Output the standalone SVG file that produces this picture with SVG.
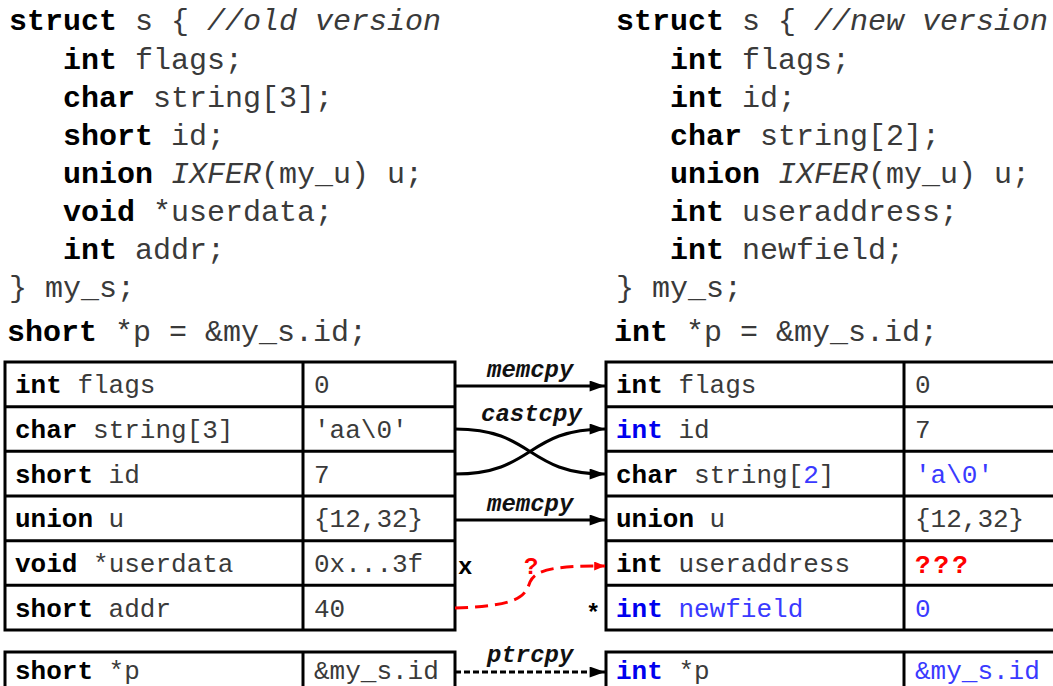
<svg xmlns="http://www.w3.org/2000/svg" width="1053" height="686" viewBox="0 0 1053 686">
  <style>
    .code { font-family: "Liberation Mono", "Courier New", monospace; font-size: 30px; fill: #3a3a3a; }
    .cell { font-family: "Liberation Mono", "Courier New", monospace; font-size: 26px; fill: #3a3a3a; }
    .kw { font-weight: bold; fill: #000; }
    .it { font-style: italic; }
    .blue { fill: #3a3aff; }
    .bkw { font-weight: bold; fill: #0000ee; }
    .red { fill: #ff0000; font-weight: bold; letter-spacing: 3px; }
    .lbl { font-family: "Liberation Mono", "Courier New", monospace; font-size: 24px; font-weight: bold; font-style: italic; fill: #111; }
    .mark { font-family: "Liberation Mono", "Courier New", monospace; font-size: 24px; font-weight: bold; fill: #000; }
    .grid { fill: #fff; stroke: #000; stroke-width: 3; }
    .line { stroke: #000; stroke-width: 3; }
    .wire { fill: none; stroke: #000; stroke-width: 3; }
  </style>
  <defs>
    <marker id="head" viewBox="0 0 14 10" refX="14" refY="5" markerWidth="16" markerHeight="11" markerUnits="userSpaceOnUse" orient="auto">
      <path d="M0,0 L14,5 L0,10 Z" fill="#000"/>
    </marker>
    <marker id="headRed" viewBox="0 0 12 10" refX="12" refY="5" markerWidth="11" markerHeight="9" markerUnits="userSpaceOnUse" orient="auto">
      <path d="M0,0 L12,5 L0,10 Z" fill="#ff0000"/>
    </marker>
  </defs>

  <rect width="1053" height="686" fill="#fff"/>

  <!-- old struct declaration -->
  <g id="code-old">
    <text class="code" x="9" y="30"><tspan class="kw">struct</tspan> s { <tspan class="it">//old version</tspan></text>
    <text class="code" x="63" y="69"><tspan class="kw">int</tspan> flags;</text>
    <text class="code" x="63" y="107"><tspan class="kw">char</tspan> string[3];</text>
    <text class="code" x="63" y="145"><tspan class="kw">short</tspan> id;</text>
    <text class="code" x="63" y="183"><tspan class="kw">union</tspan> <tspan class="it">IXFER</tspan>(my_u) u;</text>
    <text class="code" x="63" y="221"><tspan class="kw">void</tspan> *userdata;</text>
    <text class="code" x="63" y="259"><tspan class="kw">int</tspan> addr;</text>
    <text class="code" x="9" y="297">} my_s;</text>
    <text class="code" x="7" y="341"><tspan class="kw">short</tspan> *p = &amp;my_s.id;</text>
  </g>

  <!-- new struct declaration -->
  <g id="code-new">
    <text class="code" x="616" y="30"><tspan class="kw">struct</tspan> s { <tspan class="it">//new version</tspan></text>
    <text class="code" x="670" y="69"><tspan class="kw">int</tspan> flags;</text>
    <text class="code" x="670" y="107"><tspan class="kw">int</tspan> id;</text>
    <text class="code" x="670" y="145"><tspan class="kw">char</tspan> string[2];</text>
    <text class="code" x="670" y="183"><tspan class="kw">union</tspan> <tspan class="it">IXFER</tspan>(my_u) u;</text>
    <text class="code" x="670" y="221"><tspan class="kw">int</tspan> useraddress;</text>
    <text class="code" x="670" y="259"><tspan class="kw">int</tspan> newfield;</text>
    <text class="code" x="616" y="297">} my_s;</text>
    <text class="code" x="614" y="341"><tspan class="kw">int</tspan> *p = &amp;my_s.id;</text>
  </g>

  <!-- old memory layout -->
  <g id="table-old">
    <rect class="grid" x="5" y="362" width="450" height="268"/>
    <line class="line" x1="303" y1="362" x2="303" y2="630"/>
    <line class="line" x1="5" y1="406.7" x2="455" y2="406.7"/>
    <line class="line" x1="5" y1="451.3" x2="455" y2="451.3"/>
    <line class="line" x1="5" y1="496" x2="455" y2="496"/>
    <line class="line" x1="5" y1="540.7" x2="455" y2="540.7"/>
    <line class="line" x1="5" y1="585.3" x2="455" y2="585.3"/>
    <text class="cell" x="15" y="393"><tspan class="kw">int</tspan> flags</text>
    <text class="cell" x="15" y="438"><tspan class="kw">char</tspan> string[3]</text>
    <text class="cell" x="15" y="483"><tspan class="kw">short</tspan> id</text>
    <text class="cell" x="15" y="527"><tspan class="kw">union</tspan> u</text>
    <text class="cell" x="15" y="572"><tspan class="kw">void</tspan> *userdata</text>
    <text class="cell" x="15" y="617"><tspan class="kw">short</tspan> addr</text>
    <text class="cell" x="314" y="393">0</text>
    <text class="cell" x="314" y="438">'aa\0'</text>
    <text class="cell" x="314" y="483">7</text>
    <text class="cell" x="314" y="527">{12,32}</text>
    <text class="cell" x="314" y="572">0x...3f</text>
    <text class="cell" x="314" y="617">40</text>
  </g>

  <!-- new memory layout -->
  <g id="table-new">
    <rect class="grid" x="606" y="362" width="460" height="268"/>
    <line class="line" x1="904" y1="362" x2="904" y2="630"/>
    <line class="line" x1="606" y1="406.7" x2="1066" y2="406.7"/>
    <line class="line" x1="606" y1="451.3" x2="1066" y2="451.3"/>
    <line class="line" x1="606" y1="496" x2="1066" y2="496"/>
    <line class="line" x1="606" y1="540.7" x2="1066" y2="540.7"/>
    <line class="line" x1="606" y1="585.3" x2="1066" y2="585.3"/>
    <text class="cell" x="616" y="393"><tspan class="kw">int</tspan> flags</text>
    <text class="cell" x="616" y="438"><tspan class="bkw">int</tspan> id</text>
    <text class="cell" x="616" y="483"><tspan class="kw">char</tspan> string[<tspan class="blue">2</tspan>]</text>
    <text class="cell" x="616" y="527"><tspan class="kw">union</tspan> u</text>
    <text class="cell" x="616" y="572"><tspan class="kw">int</tspan> useraddress</text>
    <text class="cell blue" x="616" y="617"><tspan class="bkw">int</tspan> newfield</text>
    <text class="cell" x="915" y="393">0</text>
    <text class="cell" x="915" y="438">7</text>
    <text class="cell blue" x="915" y="483">'a\0'</text>
    <text class="cell" x="915" y="527">{12,32}</text>
    <text class="cell red" x="915" y="573">???</text>
    <text class="cell blue" x="915" y="617">0</text>
  </g>

  <!-- pointer variables -->
  <g id="ptr-old">
    <rect class="grid" x="5" y="652" width="450" height="50"/>
    <line class="line" x1="303" y1="652" x2="303" y2="702"/>
    <text class="cell" x="15" y="679"><tspan class="kw">short</tspan> *p</text>
    <text class="cell" x="314" y="679">&amp;my_s.id</text>
  </g>
  <g id="ptr-new">
    <rect class="grid" x="606" y="652" width="460" height="50"/>
    <line class="line" x1="904" y1="652" x2="904" y2="702"/>
    <text class="cell" x="616" y="679"><tspan class="bkw">int</tspan> *p</text>
    <text class="cell blue" x="915" y="679">&amp;my_s.id</text>
  </g>

  <!-- copy operations -->
  <g id="connectors">
    <line class="wire" x1="455" y1="386" x2="605" y2="386" marker-end="url(#head)"/>
    <text class="lbl" x="487" y="377">memcpy</text>

    <path class="wire" d="M455,429 C535,429 525,474 605,474" marker-end="url(#head)"/>
    <path class="wire" d="M455,474 C535,474 525,429 605,429" marker-end="url(#head)"/>
    <text class="lbl" x="481" y="421">castcpy</text>

    <line class="wire" x1="455" y1="520" x2="605" y2="520" marker-end="url(#head)"/>
    <text class="lbl" x="487" y="511">memcpy</text>

    <path d="M455,608 C520,606 525,596 530,582 C536,568 560,566 605,566" fill="none" stroke="#ff0000" stroke-width="3" stroke-dasharray="13,7" marker-end="url(#headRed)"/>
    <text class="mark" x="524" y="574" style="fill:#ff0000">?</text>
    <text class="mark" x="458" y="574">x</text>
    <text class="mark" x="586" y="621">*</text>

    <line class="wire" x1="455" y1="672" x2="605" y2="672" stroke-width="2.5" stroke-dasharray="6,3" marker-end="url(#head)"/>
    <text class="lbl" x="487" y="662">ptrcpy</text>
  </g>
</svg>
